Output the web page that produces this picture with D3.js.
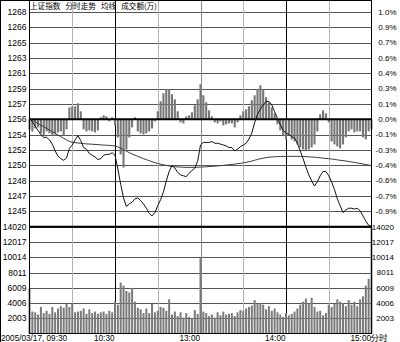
<!DOCTYPE html>
<html><head><meta charset="utf-8">
<script src="https://cdn.jsdelivr.net/npm/d3@7"></script>
<style>
html,body{margin:0;padding:0;background:#fff;}
svg{display:block;}
text{font-family:"Liberation Sans",Arial,"Noto Sans CJK SC",sans-serif;fill:#000;}
</style>
</head><body><svg id="c" width="400" height="342"></svg>
<script>
// ---------- data ----------
const prevClose = 1256.1;
const stepMinutes = 2;               // one sample every 2 minutes, 0..240 trading minutes
const priceSeries = [
 1256.3,1255.8,1255.3,1254.8,1254.3,1254.0,1254.0,1253.7,1253.2,1252.4,1251.8,1251.5,1251.3,1251.6,1252.7,1253.1,
 1253.7,1254.2,1253.6,1252.8,1252.6,1252.1,1251.9,1251.7,1251.4,1251.5,1251.9,1252.0,1252.0,1252.2,1251.9,1250.3,
 1248.5,1246.9,1245.9,1246.2,1246.4,1246.8,1246.9,1246.6,1246.2,1245.7,1245.1,1244.8,1245.2,1246.0,1246.7,1247.6,
 1248.9,1250.0,1250.7,1250.4,1249.9,1249.6,1249.5,1249.4,1249.8,1250.1,1250.4,1251.2,1253.1,
 1253.4,1253.4,1253.4,1253.5,1253.3,1253.3,1253.2,1253.1,1253.0,1252.8,1252.8,1252.4,1252.6,1252.9,1253.1,1253.3,
 1253.8,1254.5,1255.7,1256.7,1257.3,1257.8,1258.2,1258.2,1257.8,1257.0,1256.2,1255.5,1254.8,1254.5,1254.3,1254.1,
 1253.9,1253.3,1252.4,1251.5,1250.5,1249.6,1248.9,1248.3,1248.8,1249.5,1250.0,1250.0,1249.5,1248.8,1247.9,1246.8,
 1246.0,1245.2,1245.5,1245.7,1245.7,1245.6,1245.7,1245.4,1244.8,1244.2,1243.7,1243.6
];
const avgSeries = [
 1256.18,1255.99,1255.81,1255.61,1255.42,1255.23,1255.04,1254.85,1254.66,1254.46,1254.27,1254.08,1253.89,1253.70,1253.52,1253.41,
 1253.37,1253.34,1253.30,1253.27,1253.23,1253.21,1253.19,1253.16,1253.14,1253.12,1253.09,1253.07,1253.05,1253.02,1252.99,
 1252.87,1252.73,1252.55,1252.38,1252.20,1252.05,1251.91,1251.77,1251.64,1251.50,1251.38,1251.27,1251.15,1251.03,1250.94,
 1250.86,1250.78,1250.71,1250.65,1250.59,1250.55,1250.53,1250.51,1250.50,1250.48,1250.48,1250.48,1250.48,1250.50,1250.51,
 1250.53,1250.55,1250.58,1250.60,1250.62,1250.66,1250.68,1250.72,1250.75,1250.79,1250.82,1250.87,1250.92,1250.96,1251.01,
 1251.07,1251.14,1251.22,1251.31,1251.41,1251.49,1251.56,1251.62,1251.67,1251.70,1251.72,1251.74,1251.75,1251.76,1251.76,
 1251.77,1251.77,1251.77,1251.77,1251.76,1251.75,1251.74,1251.71,1251.69,1251.67,1251.63,1251.60,1251.56,1251.53,1251.49,
 1251.46,1251.41,1251.36,1251.31,1251.27,1251.22,1251.17,1251.12,1251.06,1251.00,1250.94,1250.88,1250.81,1250.75,1250.68
];
const strengthSeries = [
 -10,-12,-9,-8,-14,-16,-12,-14,-16,-15,-13,-12,-16,-10,
 12,13,13,16,8,
 -10,-12,-11,-12,-13,-11,
 2,4,3,-2,2,
 -6,
 -18,-35,-48,-30,-18,-8,
 2,
 -12,-14,-15,-14,-12,-9,-2,
 8,18,26,30,30,25,20,8,
 -3,-4,
 3,4,7,14,20,35,24,17,9,3,
 -3,-4,-2,-6,-5,-4,-4,-8,-3,
 4,8,10,13,19,24,30,34,30,22,17,12,6,
 -5,-11,-16,-20,-16,-20,-22,-25,-28,-30,-31,-30,-28,-25,-12,
 5,9,6,
 -3,-22,-25,-27,-29,-25,-18,-12,-10,-13,-12,-12,-18,-20,-12,-10
];
const volumeSeries = [
 5900,2900,2800,2500,3500,2700,3000,2600,3500,2800,3300,3600,3400,3900,3500,4000,
 2800,2900,3000,3300,2600,3200,2700,2900,2600,2800,2900,2600,3000,2800,4200,
 3800,6700,6300,5600,5400,6000,4200,3400,3200,2700,3300,2700,3900,2800,3000,
 3500,3400,3000,4500,2500,2900,2300,2800,2100,2700,2200,2000,3100,2600,9900,
 2900,2700,2300,2500,2100,2800,2400,2900,2500,2600,2700,2300,2800,3100,3000,
 3300,3500,3700,4400,3900,4000,3800,3200,3600,3000,3300,2800,2500,2200,2700,
 2400,2600,2900,3300,3800,4200,4600,4000,4700,3500,2900,3000,2400,2700,3800,
 3500,3900,4500,4200,4000,3600,4400,3800,4200,3600,4500,4900,6300,7200,14000
];
const priceTickLabels = ["1268","1266","1265","1263","1261","1259","1257","1256","1254","1252","1250","1248","1247","1245"];
const pctTickLabels   = ["1.0%","0.9%","0.7%","0.6%","0.4%","0.3%","0.1%","0.0%","-0.1%","-0.3%","-0.4%","-0.6%","-0.7%","-0.9%"];
const volumeTicks = [2003,4006,6009,8011,10014,12017,14020];
const timeGrid = [30,60,90,120,150,180,210];
const timeGridKind = ["minor","major","minor","mid","minor","major","minor"];
const timeLabels = [{m:60,t:"10:30"},{m:120,t:"13:00"},{m:180,t:"14:00"},{m:240,t:"15:00"}];
const dateLabel = "2005/03/17, 09:30";
const unitLabel = "分时";
const titleText = "上证指数 分时走势 均线 成交额(万)";

// ---------- layout ----------
const L = 29.5, R = 371.5, PT = 12, PB = 226.7, VB = 333.7;
const svg = d3.select("#c");
const x = d3.scaleLinear().domain([0, 240]).range([L, R]);
const yP = d3.scaleLinear().domain([prevClose * 0.99, prevClose * 1.01]).range([PB, PT]);
const yS = d3.scaleLinear().domain([-107, 107]).range([PB, PT]);
const yV = d3.scaleLinear().domain([0, 14020]).range([VB, PB]);
const minutes = priceSeries.map((_, i) => i * stepMinutes);
const crisp = v => Math.round(v) + 0.5;

// price levels: 7 steps of 1/7 % each side of previous close
const levels = d3.range(7, -8, -1).map(k => prevClose * (1 + k / 700));

const g = svg.append("g");
g.selectAll(".hp").data(levels).enter().append("line")
  .attr("x1", L).attr("x2", R)
  .attr("y1", d => crisp(yP(d))).attr("y2", d => crisp(yP(d)))
  .attr("stroke", "#555").attr("stroke-width", 1).attr("shape-rendering", "crispEdges");
g.selectAll(".hv").data(volumeTicks).enter().append("line")
  .attr("x1", L).attr("x2", R)
  .attr("y1", d => crisp(yV(d))).attr("y2", d => crisp(yV(d)))
  .attr("stroke", "#555").attr("stroke-width", 1).attr("shape-rendering", "crispEdges");
const vColor = {minor: "#b4b4b4", major: "#000", mid: "#8a8a8a"};
g.selectAll(".vg").data(timeGrid).enter().append("line")
  .attr("x1", d => crisp(x(d))).attr("x2", d => crisp(x(d)))
  .attr("y1", 0).attr("y2", VB)
  .attr("stroke", (d, i) => vColor[timeGridKind[i]]).attr("stroke-width", 1).attr("shape-rendering", "crispEdges");

// strength bars
g.selectAll(".sb").data(strengthSeries).enter().append("rect")
  .attr("x", (d, i) => x(minutes[i]) - 1.05).attr("width", 2.1)
  .attr("y", d => Math.min(yS(d), yS(0))).attr("height", d => Math.abs(yS(d) - yS(0)))
  .attr("fill", "#777");
// volume bars
g.selectAll(".vb").data(volumeSeries).enter().append("rect")
  .attr("x", (d, i) => x(minutes[i]) - 1).attr("width", 2)
  .attr("y", d => yV(d)).attr("height", d => yV(0) - yV(d))
  .attr("fill", "#7a7a7a");

// zero line and panel separator (thick)
g.append("line").attr("x1", L).attr("x2", R).attr("y1", yP(prevClose)).attr("y2", yP(prevClose))
  .attr("stroke", "#000").attr("stroke-width", 2);
g.append("line").attr("x1", L).attr("x2", R).attr("y1", yV(14020)).attr("y2", yV(14020))
  .attr("stroke", "#000").attr("stroke-width", 2);

// average line & price line
const line = d3.line().x((d, i) => x(minutes[i]));
g.append("path").datum(avgSeries).attr("d", line.y(d => yP(d)))
  .attr("fill", "none").attr("stroke", "#3a3a3a").attr("stroke-width", 1);
g.append("path").datum(priceSeries).attr("d", line.y(d => yP(d)))
  .attr("fill", "none").attr("stroke", "#111").attr("stroke-width", 1);

// frame
g.append("line").attr("x1", 0).attr("x2", R).attr("y1", 0.5).attr("y2", 0.5).attr("stroke", "#000").attr("shape-rendering", "crispEdges");
g.append("line").attr("x1", 0.5).attr("x2", 0.5).attr("y1", 0).attr("y2", 342).attr("stroke", "#000").attr("shape-rendering", "crispEdges");
g.append("line").attr("x1", L).attr("x2", L).attr("y1", 0).attr("y2", VB).attr("stroke", "#000").attr("shape-rendering", "crispEdges");
g.append("line").attr("x1", R).attr("x2", R).attr("y1", 0).attr("y2", VB).attr("stroke", "#000").attr("shape-rendering", "crispEdges");
g.append("line").attr("x1", L).attr("x2", R).attr("y1", crisp(VB - 0.5)).attr("y2", crisp(VB - 0.5)).attr("stroke", "#000").attr("shape-rendering", "crispEdges");

// labels
const fs = "8.5px";
const lab = svg.append("g");
lab.selectAll(".pl").data(priceTickLabels).enter().append("text")
  .attr("x", 26.5).attr("y", (d, i) => yP(levels[i])).attr("dy", "0.35em")
  .attr("text-anchor", "end").style("font-size", fs).text(d => d);
lab.selectAll(".ql").data(pctTickLabels).enter().append("text")
  .attr("x", 396.5).attr("y", (d, i) => yP(levels[i])).attr("dy", "0.35em")
  .attr("text-anchor", "end").style("font-size", "8px").text(d => d);
lab.selectAll(".vl").data(volumeTicks).enter().append("text")
  .attr("x", 26.5).attr("y", d => yV(d)).attr("dy", "0.35em")
  .attr("text-anchor", "end").style("font-size", fs).text(d => d);
lab.selectAll(".vr").data(volumeTicks).enter().append("text")
  .attr("x", 394).attr("y", d => yV(d)).attr("dy", "0.35em")
  .attr("text-anchor", "end").style("font-size", "8px").text(d => d);
lab.selectAll(".tl").data(timeLabels).enter().append("text")
  .attr("x", d => x(d.m) - 0.5).attr("y", 341)
  .attr("text-anchor", "end").style("font-size", "8.2px").text(d => d.t);
lab.append("text").attr("x", 1).attr("y", 341).style("font-size", "8.2px").text(dateLabel);
lab.append("text").attr("x", R - 1).attr("y", 341).style("font-size", "8.5px")
  .style("font-family", "'Noto Sans CJK SC'").text(unitLabel);
lab.append("text").attr("x", 30).attr("y", 8.5).style("font-size", "7.6px")
  .style("word-spacing", "3.4px")
  .style("font-family", "'Noto Sans CJK SC'").text(titleText);
</script>
</body></html>
